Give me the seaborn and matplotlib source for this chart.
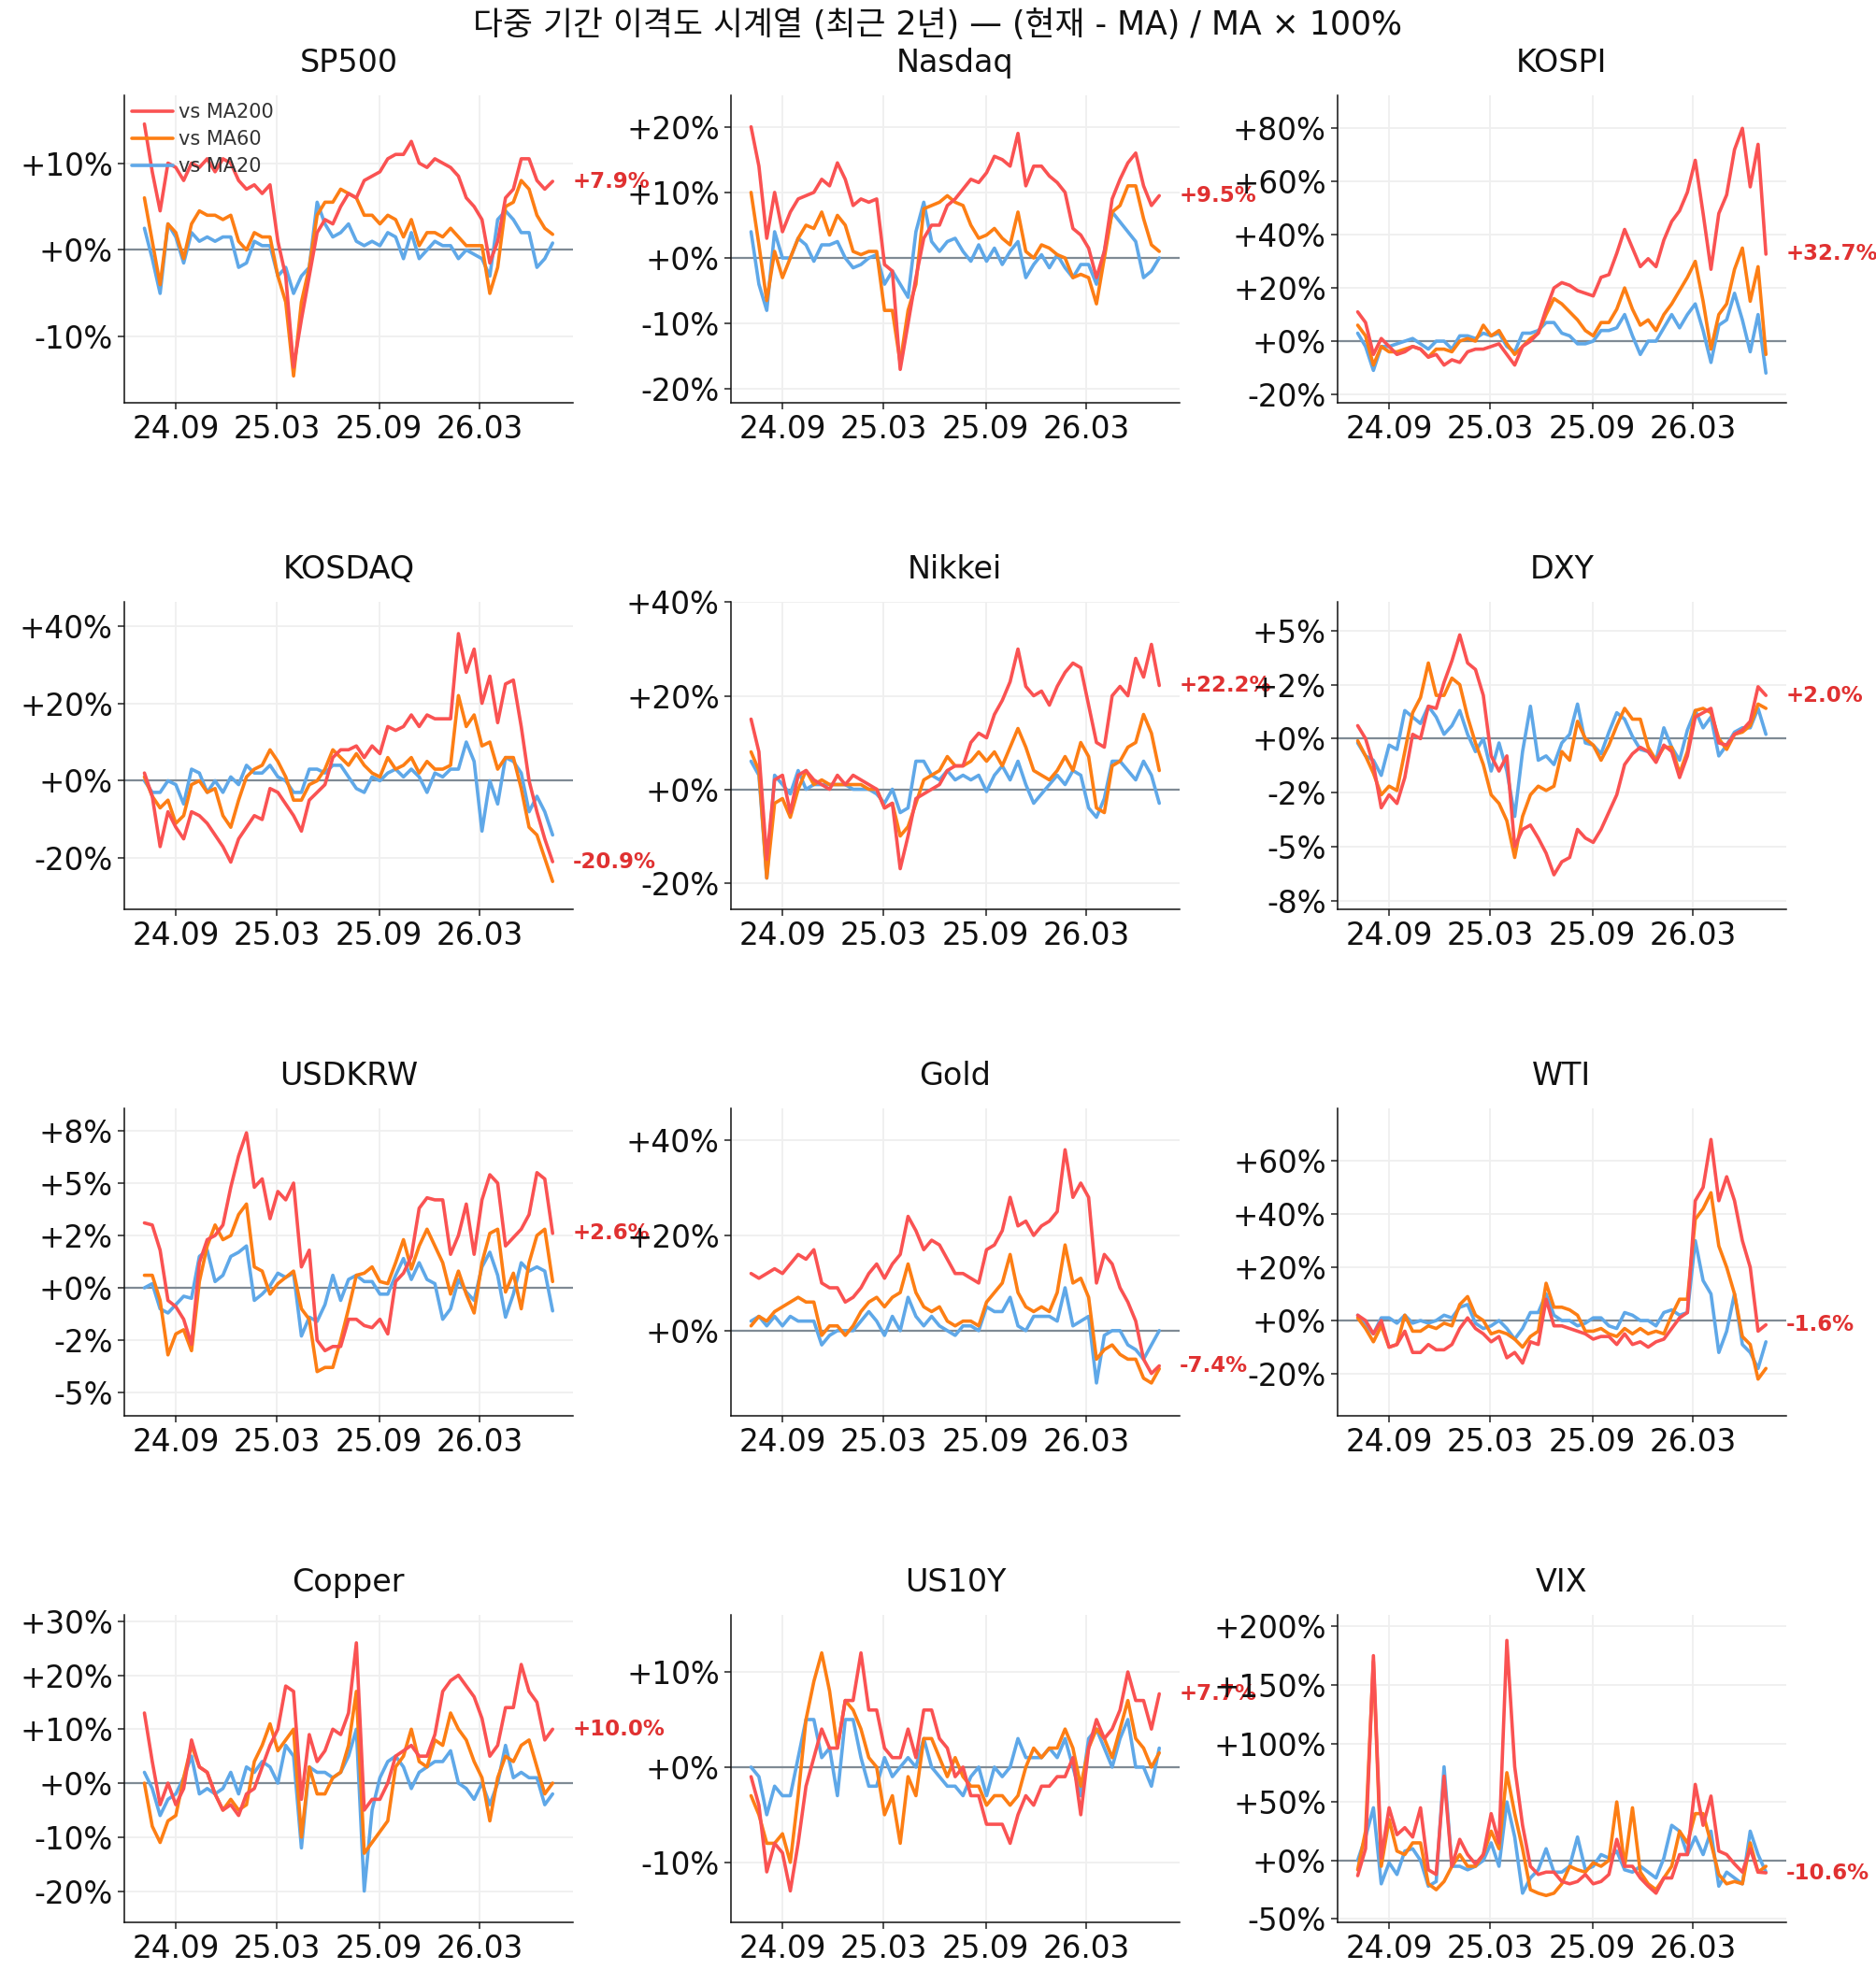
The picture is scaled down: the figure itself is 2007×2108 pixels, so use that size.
import numpy as np
import pandas as pd
import matplotlib
matplotlib.use("Agg")
import matplotlib.pyplot as plt
import matplotlib.dates as mdates
from matplotlib.ticker import MultipleLocator, FuncFormatter
import seaborn as sns

# ---------------- data (deviation from moving average, %) ----------------
dates = pd.date_range("2024-07-06", "2026-07-10", periods=53)

sp500_ma200 = [14.5, 9, 4.5, 10, 9.5, 8, 10, 9.5, 10.5, 9, 10.5, 10, 8, 7, 7.5, 6.5, 7.5, 1, -3, -13.5, -8, -3, 2, 3.5, 3, 5, 6.5, 6, 8, 8.5, 9, 10.5, 11, 11, 12.5, 10, 9.5, 10.5, 10, 9.5, 8.5, 6, 5, 3.5, -1.5, 1, 6, 7, 10.5, 10.5, 8, 7, 7.9]
sp500_ma60 = [6, 1, -4, 3, 2, -1, 3, 4.5, 4, 4, 3.5, 4, 1, 0, 2, 1.5, 1.5, -3, -6, -14.5, -6, -2, 4, 5.5, 5.5, 7, 6.5, 6, 4, 4, 3, 4, 3.5, 1.5, 3.5, 0.5, 2, 2, 1.5, 2.5, 1.5, 0.5, 0.5, 0.5, -5, -2, 5, 5.5, 8, 7, 4, 2.5, 1.8]
sp500_ma20 = [2.5, -1, -5, 3, 1.5, -1.5, 2, 1, 1.5, 1, 1.5, 1.5, -2, -1.5, 1, 0.5, 0.5, -3, -2, -5, -3, -2, 5.5, 3, 1.5, 2, 3, 1, 0.5, 1, 0.5, 2, 1.5, -1, 2, -1, 0, 1, 0.5, 0.5, -1, 0, -0.5, -1, -3, 3.5, 4.5, 3.5, 2, 2, -2, -1, 0.8]

nasdaq_ma200 = [20, 14, 3, 10, 4, 7, 9, 9.5, 10, 12, 11, 14.5, 12, 8, 9, 8.5, 9, -1, -2, -17, -10, -3, 3, 5, 5, 8, 9, 10.5, 12, 11.5, 13, 15.5, 15, 14, 19, 11, 14, 14, 12.5, 11.5, 10, 4.5, 3.5, 1.5, -3, 1, 9, 12, 14.5, 16, 11, 8, 9.5]
nasdaq_ma60 = [10, 2, -6.5, 1, -3, 0, 3, 5, 4.5, 7, 3.5, 6.5, 5, 1, 0.5, 1, 1, -8, -8, -16, -8, -4, 7.5, 8, 8.5, 9.5, 8.5, 8, 5, 3, 3.5, 4.5, 3, 2, 7, 1, 0, 2, 1.5, 0.5, 0, -3, -2.5, -3, -7, 0, 7, 8, 11, 11, 6, 2, 1]
nasdaq_ma20 = [4, -4, -8, 4, 0, 0, 3, 2, -0.5, 2, 2, 2.5, 0, -1.5, -1, 0, 0.5, -4, -2, -4, -6, 4, 8.5, 2.5, 1, 2.5, 3, 1, -0.5, 2, -0.5, 1.5, -1, 1, 2.5, -3, -1, 0.5, -1.5, 0.5, -1.5, -3, -1, -1, -4, 1, 7, 5.5, 4, 2.5, -3, -2, 0]

kospi_ma200 = [11, 7, -5, 1, -2, -5, -4, -2, -3, -6, -5, -9, -7, -8, -4, -3, -3, -2, -1, -5, -9, -2, 0, 3, 12, 20, 22, 21, 19, 18, 17, 24, 25, 33, 42, 35, 28, 31, 28, 38, 45, 49, 56, 68, 48, 27, 48, 55, 72, 80, 58, 74, 32.7]
kospi_ma60 = [6, 2, -9, -2, -4, -4, -3, -2, -3, -6, -3, -3, -4, 0, 1, 0, 6, 2, 4, -1, -5, -2, 1, 3, 10, 16, 14, 11, 8, 4, 2, 7, 7, 12, 20, 12, 6, 8, 4, 10, 14, 19, 24, 30, 15, -3, 10, 14, 27, 35, 15, 28, -5]
kospi_ma20 = [3, -2, -11, -2, -2, -1, 0, 1, -1, -3, 0, 0, -3, 2, 2, 1, 3, 2, 3, -2, -4, 3, 3, 4, 7, 7, 3, 2, -1, -1, 0, 4, 4, 5, 10, 2, -5, 0, 0, 5, 10, 5, 10, 14, 4, -8, 6, 8, 18, 8, -4, 10, -12]

kosdaq_ma200 = [2, -4, -17, -8, -12, -15, -8, -9, -11, -14, -17, -21, -15, -12, -9, -10, -2, -3, -6, -9, -13, -5, -3, -1, 6, 8, 8, 9, 6, 9, 7, 14, 13, 14, 17, 14, 17, 16, 16, 16, 38, 28, 34, 20, 27, 15, 25, 26, 14, 0, -8, -15, -20.9]
kosdaq_ma60 = [1, -4, -7, -5, -11, -9, -1, 0, -3, -2, -9, -12, -5, 1, 3, 4, 8, 5, 1, -5, -5, -1, 0, 3, 8, 6, 4, 7, 4, 2, 1, 6, 3, 4, 6, 2, 5, 3, 3, 4, 22, 14, 17, 9, 10, 3, 6, 6, -2, -12, -14, -20, -26]
kosdaq_ma20 = [0, -3, -3, 0, -1, -6, 3, 2, -3, 0, -3, 1, -1, 4, 2, 2, 4, 1, 0, -3, -3, 3, 3, 2, 4, 4, 1, -2, -3, 1, 0, 2, 3, 1, 3, 1, -3, 2, 1, 3, 3, 10, 5, -13, 0, -6, 6, 5, 2, -8, -4, -8, -14]

nikkei_ma200 = [15, 8, -15, 2, 3, -5, 3, 4, 2, 1, 0, 3, 1, 3, 2, 1, 0, -4, -3, -17, -10, -2, -1, 0, 1, 4, 5, 5, 10, 12, 11, 16, 19, 23, 30, 22, 20, 21, 18, 22, 25, 27, 26, 18, 10, 9, 20, 22, 20, 28, 24, 31, 22.2]
nikkei_ma60 = [8, 4, -19, -3, -2, -6, 0, 4, 1, 2, 1, 1, 1, 1, 1, 0, 0, -4, -3, -10, -8, -3, 2, 3, 4, 7, 5, 5, 6, 8, 6, 8, 5, 9, 13, 9, 4, 3, 2, 4, 7, 4, 10, 7, -4, -5, 5, 6, 9, 10, 16, 12, 4]
nikkei_ma20 = [6, 3, -19, 3, 1, -1, 4, 0, 1, 1, 1, 1, 1, 0, 0, 0, -1, -3, 0, -5, -4, 6, 6, 3, 2, 4, 2, 3, 2, 3, -0.5, 3, 5, 2, 6, 1, -3, -1, 1, 3, 1, 4, 3, -4, -6, -2, 6, 6, 4, 2, 6, 3, -3]

dxy_ma200 = [0.6, 0, -1.2, -3.2, -2.6, -3, -1.8, 0.2, 0, 1.5, 1.4, 2.6, 3.6, 4.8, 3.5, 3.2, 2, -0.8, -1.5, -0.8, -5, -4.2, -4, -4.6, -5.3, -6.3, -5.7, -5.5, -4.2, -4.6, -4.8, -4.2, -3.4, -2.6, -1.2, -0.7, -0.4, -0.6, -1.1, -0.3, -0.6, -1.8, -0.8, 1, 1.2, 1.4, -0.2, -0.3, 0.2, 0.4, 0.8, 2.4, 2.0]
dxy_ma60 = [-0.1, -0.8, -1.6, -2.6, -2.2, -2.4, -0.6, 1.2, 1.9, 3.5, 2.0, 2.0, 2.8, 2.5, 1.0, -0.2, -1.2, -2.6, -3.0, -3.8, -5.5, -3.6, -2.6, -2.2, -2.4, -2.2, -0.6, -1.0, 0.8, 0, -0.3, -1.0, -0.3, 0.6, 1.4, 0.9, 0.9, -0.4, -1.0, -0.4, -0.4, -1.6, -0.6, 1.3, 1.4, 1.2, 0, -0.5, 0.2, 0.3, 0.6, 1.6, 1.4]
dxy_ma20 = [-0.2, -0.8, -1.0, -1.7, -0.3, -0.5, 1.3, 1.0, 0.7, 1.5, 1.0, 0.2, 0.6, 1.3, 0.2, -0.6, 0, -1.5, -0.2, -1.5, -3.6, -0.6, 1.5, -1.0, -0.8, -1.2, -0.2, 0.2, 1.6, -0.2, -0.3, -0.7, 0.3, 1.2, 0.9, 0.1, -0.5, -0.6, -1.0, 0.5, -0.4, -1.0, 0.4, 1.3, 0.5, 1.0, -0.8, -0.3, 0.3, 0.5, 0.5, 1.4, 0.2]

usdkrw_ma200 = [3.1, 3.0, 1.8, -0.6, -0.9, -1.5, -2.7, 1.2, 2.3, 2.5, 3.0, 4.8, 6.3, 7.4, 4.8, 5.2, 3.3, 4.6, 4.2, 5.0, 1.0, 1.8, -2.5, -3.0, -2.8, -2.8, -1.5, -1.5, -1.8, -1.9, -1.5, -2.2, 0.3, 0.7, 1.5, 3.8, 4.3, 4.2, 4.2, 1.6, 2.5, 4.0, 1.6, 4.2, 5.4, 5.0, 2.0, 2.4, 2.8, 3.5, 5.5, 5.2, 2.6]
usdkrw_ma60 = [0.6, 0.6, -0.6, -3.2, -2.2, -2.0, -3.0, 0.3, 2.0, 3.0, 2.3, 2.5, 3.5, 4.0, 1.0, 0.8, -0.3, 0.2, 0.5, 0.8, -1.0, -1.5, -4.0, -3.8, -3.8, -2.5, -1.0, 0.6, 0.7, 1.0, 0.3, 0.2, 1.2, 2.3, 0.9, 2.0, 2.8, 2.0, 1.2, -0.3, 0.8, -0.3, -1.2, 1.2, 2.6, 2.8, -0.2, 0.7, -1.0, 1.2, 2.5, 2.8, 0.3]
usdkrw_ma20 = [0, 0.2, -1.0, -1.2, -0.8, -0.4, -0.5, 1.5, 1.8, 0.3, 0.6, 1.5, 1.7, 2.0, -0.6, -0.3, 0.1, 0.7, 0.5, 0.7, -2.3, -1.4, -1.6, -0.8, 0.6, -0.6, 0.4, 0.6, 0.3, 0.3, -0.3, -0.3, 0.6, 1.4, 0.4, 1.2, 0.4, 0.2, -1.5, -1.0, 0.4, -0.2, -0.6, 1.0, 1.7, 0.6, -1.4, -0.3, 1.2, 0.8, 1.0, 0.8, -1.1]

gold_ma200 = [12, 11, 12, 13, 12, 14, 16, 15, 17, 10, 9, 9, 6, 7, 9, 12, 14, 11, 14, 16, 24, 21, 17, 19, 18, 15, 12, 12, 11, 10, 17, 18, 21, 28, 22, 23, 20, 22, 23, 25, 38, 28, 31, 28, 10, 16, 14, 9, 6, 2, -6, -9, -7.4]
gold_ma60 = [1, 3, 2, 4, 5, 6, 7, 6, 6, -1, 1, 1, -1, 1, 4, 6, 7, 5, 7, 8, 14, 8, 5, 4, 5, 2, 1, 2, 2, 1, 6, 8, 10, 16, 8, 5, 4, 5, 4, 8, 18, 10, 11, 7, -6, -4, -3, -5, -6, -6, -10, -11, -8]
gold_ma20 = [2, 3, 1, 3, 1, 3, 2, 2, 2, -3, -1, 0, 0, 0, 2, 4, 2, -1, 3, 0, 7, 3, 1, 3, 1, 0, -1, 1, 1, 0, 5, 4, 4, 7, 1, 0, 3, 3, 3, 2, 9, 1, 2, 3, -11, -1, 0, 0, -3, -4, -6, -3, 0]

wti_ma200 = [2, 0, -5, 0, -10, -9, -4, -12, -12, -9, -11, -11, -9, -3, 1, -3, -5, -8, -6, -14, -12, -16, -8, -9, 8, -2, -2, -3, -4, -5, -7, -6, -6, -9, -5, -9, -8, -10, -8, -7, -3, 1, 3, 45, 50, 68, 45, 54, 45, 30, 20, -4, -1.6]
wti_ma60 = [1, -3, -8, -2, -10, -9, 2, -4, -4, -2, -3, -1, -2, 6, 9, 2, 0, -5, -4, -5, -7, -10, -6, -4, 14, 5, 5, 4, 2, -4, -4, -3, -5, -6, -3, -5, -3, -5, -4, -5, 2, 8, 8, 38, 42, 48, 28, 20, 10, -6, -9, -22, -18]
wti_ma20 = [2, -2, -5, 1, 1, -1, 2, -1, 0, -1, 0, 2, 1, 5, 6, -1, -3, -2, 0, -3, -7, -3, 3, 3, 10, 2, 0, 0, -2, -1, 1, 1, -2, -3, 3, 2, 0, 0, -2, 3, 4, 2, 3, 30, 15, 10, -12, -4, 10, -9, -12, -18, -8]

copper_ma200 = [13, 4, -4, 0, -4, -1, 8, 3, 2, -2, -5, -4, -6, -2, -1, 3, 7, 10, 18, 17, -3, 9, 4, 6, 10, 9, 13, 26, -5, -3, -3, 0, 5, 6, 7, 5, 5, 9, 17, 19, 20, 18, 16, 12, 5, 7, 14, 14, 22, 17, 15, 8, 10.0]
copper_ma60 = [0, -8, -11, -7, -6, 1, 7, 3, 2, -2, -5, -3, -5, -4, 4, 7, 11, 6, 8, 10, -10, 3, -2, -2, 1, 2, 7, 17, -13, -11, -9, -7, 3, 5, 10, 4, 3, 8, 7, 13, 10, 8, 4, 1, -7, 1, 5, 4, 7, 8, 3, -2, 0]
copper_ma20 = [2, -1, -6, -3, -2, 1, 5, -2, -1, -2, -1, 2, -2, 3, 2, 4, 3, 0, 7, 5, -12, 3, 2, 2, 1, 2, 5, 10, -20, -5, 1, 4, 5, 3, -1, 2, 3, 4, 4, 6, 0, -1, -3, 0, -4, 0, 7, 1, 2, 1, 1, -4, -2]

us10y_ma200 = [-1, -4, -11, -8, -9, -13, -8, -2, 1, 4, 2, 2, 7, 7, 12, 6, 6, 2, 1, 1, 4, 1, 6, 6, 3, 2, -1, 0, -3, -3, -6, -6, -6, -8, -5, -3, -4, -2, -2, -1, -1, 1, -5, 2, 5, 3, 4, 6, 10, 7, 7, 4, 7.7]
us10y_ma60 = [-3, -5, -8, -8, -7, -10, -3, 5, 9, 12, 8, 2, 7, 6, 4, 1, 0, -5, -3, -8, -1, -3, 3, 3, 1, -1, 1, -1, -2, -2, -4, -3, -3, -4, -3, 0, 2, 1, 2, 2, 4, 2, -2, 2, 4, 3, 1, 4, 7, 3, 2, 0, 1.5]
us10y_ma20 = [0, -1, -5, -2, -3, -3, 1, 5, 5, 1, 2, -3, 5, 5, 1, -2, -2, 1, -1, 0, 1, 0, 3, 0, -1, -2, -2, -3, -1, 0, -3, 0, -1, 0, 3, 1, 1, 1, 2, 1, 3, 0, -3, 3, 4, 2, 0, 3, 5, 0, 0, -2, 2]

vix_ma200 = [-13, 10, 175, 2, 45, 22, 28, 20, 45, -8, -12, 72, -5, 18, 5, -3, 5, 40, 15, 188, 80, 30, -5, -12, -10, -10, -18, -20, -18, -12, -20, -18, -12, 18, -5, -5, -15, -22, -28, -15, -15, 5, 5, 65, 30, 55, 8, 5, -3, -10, 10, -10, -10.6]
vix_ma60 = [-8, 25, 170, -5, 35, 8, 5, 15, 15, -20, -25, -18, -5, 5, -5, -5, 5, 25, 10, 75, 40, 10, -25, -28, -30, -28, -20, -5, -8, -10, -2, -5, 0, 50, -5, 45, -10, -20, -25, -15, -5, 25, 15, 40, 40, 15, -12, -20, -18, -20, 15, -10, -5]
vix_ma20 = [0, 20, 45, -20, -2, -12, 8, 10, 0, -22, -18, 80, -5, -5, -8, -5, 0, 15, -5, 50, 20, -28, -15, -8, 10, -10, -10, -5, 20, -8, -5, 5, 2, 8, -8, -10, -5, -10, -15, 2, 30, 25, 5, 20, 5, 25, -22, -10, -15, -20, 25, 5, -10]

names = ["SP500", "Nasdaq", "KOSPI", "KOSDAQ", "Nikkei", "DXY",
         "USDKRW", "Gold", "WTI", "Copper", "US10Y", "VIX"]
series = [
    (sp500_ma200, sp500_ma60, sp500_ma20),
    (nasdaq_ma200, nasdaq_ma60, nasdaq_ma20),
    (kospi_ma200, kospi_ma60, kospi_ma20),
    (kosdaq_ma200, kosdaq_ma60, kosdaq_ma20),
    (nikkei_ma200, nikkei_ma60, nikkei_ma20),
    (dxy_ma200, dxy_ma60, dxy_ma20),
    (usdkrw_ma200, usdkrw_ma60, usdkrw_ma20),
    (gold_ma200, gold_ma60, gold_ma20),
    (wti_ma200, wti_ma60, wti_ma20),
    (copper_ma200, copper_ma60, copper_ma20),
    (us10y_ma200, us10y_ma60, us10y_ma20),
    (vix_ma200, vix_ma60, vix_ma20),
]
ylims = [(-17.6, 17.8), (-22.1, 24.8), (-23.2, 92.4), (-33.2, 46.2),
         (-25.7, 40.1), (-7.9, 6.33), (-6.11, 8.57), (-17.9, 46.7),
         (-35.8, 79.7), (-25.8, 31.2), (-16.3, 16.0), (-52.9, 209.9)]
ysteps = [10, 10, 20, 20, 20, 2.5, 2.5, 20, 20, 10, 10, 50]

# ---------------- style ----------------
RED = "#fa5252"
ORANGE = "#fd7e14"
BLUE = "#5fa8e8"
LABEL_RED = "#e03131"

sns.set_theme(style="ticks")
plt.rcParams["font.family"] = ["DejaVu Sans", "Noto Sans CJK KR"]

fig, axes = plt.subplots(4, 3, figsize=(20.07, 21.08), dpi=100)
fig.subplots_adjust(left=0.0661, right=0.9522, top=0.9516, bottom=0.0242,
                    wspace=0.351, hspace=0.647)

fmt = FuncFormatter(lambda v, p: f"{v:+.0f}%")

for k, ax in enumerate(axes.flat):
    r, o, b = series[k]
    ax.set_axisbelow(True)
    ax.grid(True, color="#efefef", linewidth=1.3)
    ax.axhline(0, color="#7f8a94", linewidth=1.6, zorder=1.5)
    sns.lineplot(x=dates, y=b, ax=ax, color=BLUE, linewidth=2.6, label="vs MA20")
    sns.lineplot(x=dates, y=o, ax=ax, color=ORANGE, linewidth=2.6, label="vs MA60")
    sns.lineplot(x=dates, y=r, ax=ax, color=RED, linewidth=2.6, label="vs MA200")

    ax.set_ylim(*ylims[k])
    ax.yaxis.set_major_locator(MultipleLocator(ysteps[k]))
    ax.yaxis.set_major_formatter(fmt)
    ax.xaxis.set_major_locator(mdates.MonthLocator(bymonth=[3, 9]))
    ax.xaxis.set_major_formatter(mdates.DateFormatter("%y.%m"))
    ax.set_xlabel("")
    ax.set_ylabel("")
    ax.tick_params(axis="both", labelsize=23.5, length=5, width=1.1,
                   color="#222222", labelcolor="#111111")
    for s in ("top", "right"):
        ax.spines[s].set_visible(False)
    for s in ("left", "bottom"):
        ax.spines[s].set_color("#111111")
        ax.spines[s].set_linewidth(1.1)
    ax.set_title(names[k], fontsize=24, pad=18, color="#111111")

    last = r[-1]
    ax.annotate(f"{last:+.1f}%", xy=(1.0, last), xycoords=ax.get_yaxis_transform(),
                xytext=(0, 0), textcoords="offset points", ha="left", va="center",
                color=LABEL_RED, fontsize=16.5, fontweight="bold", annotation_clip=False)

    if k == 0:
        h, l = ax.get_legend_handles_labels()
        ax.legend(h[::-1], l[::-1], loc="upper left", frameon=False, fontsize=15,
                  handlelength=2.1, handletextpad=0.3, labelspacing=0.42,
                  borderaxespad=0.2, borderpad=0.2, labelcolor="#333333")
    else:
        leg = ax.get_legend()
        if leg is not None:
            leg.remove()

fig.suptitle("다중 기간 이격도 시계열 (최근 2년) — (현재 - MA) / MA × 100%",
             fontsize=25, y=0.987, va="center", color="#111111")

fig.savefig("out.png", dpi=100)
